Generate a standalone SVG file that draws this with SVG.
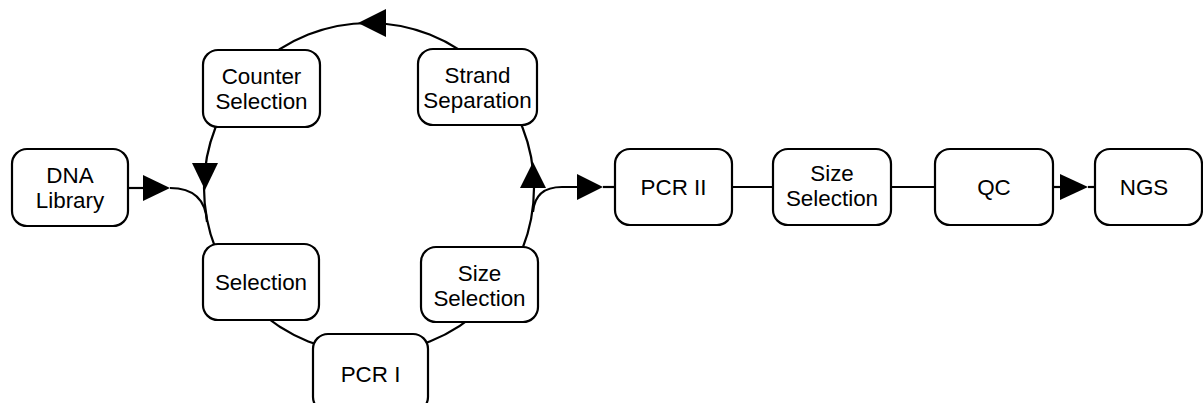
<svg xmlns="http://www.w3.org/2000/svg" width="1203" height="403" viewBox="0 0 1203 403">
<style>
.box{fill:#fff;stroke:#000;stroke-width:2.2}
.ln{fill:none;stroke:#000;stroke-width:2.2}
.ah{fill:#000;stroke:none}
text{font-family:"Liberation Sans",Arial,sans-serif;font-size:22.4px;fill:#000;text-anchor:middle}
</style>
<rect width="1203" height="403" fill="#fff"/>
<g id="connectors">
<circle class="ln" cx="369" cy="188" r="165"/>
<polygon class="ah" points="358,23 386,9 386,37"/>
<polygon class="ah" points="205,190 192,163 218,163"/>
<polygon class="ah" points="533,162 520,188 546,188"/>
<path class="ln" d="M128,188 H143"/>
<polygon class="ah" points="170,188 143,175 143,201"/>
<path class="ln" d="M170,188 Q205,188 207,222"/>
<path class="ln" d="M533,212 Q535,187 562,187 H577"/>
<polygon class="ah" points="603,187 577,174 577,200"/>
<path class="ln" d="M603,187 H615"/>
<path class="ln" d="M732,187 H773"/>
<path class="ln" d="M891,187 H935"/>
<path class="ln" d="M1053,187 H1060"/>
<polygon class="ah" points="1088,187 1060,174 1060,200"/>
<path class="ln" d="M1088,187 H1095"/>
</g>
<g id="dna-library"><rect class="box" x="12" y="149" width="116" height="77" rx="15"/><text x="70" y="183">DNA</text><text x="70" y="208.2">Library</text></g>
<g id="counter-selection"><rect class="box" x="203" y="50" width="117" height="77" rx="15"/><text x="261.5" y="84">Counter</text><text x="261.5" y="109.2">Selection</text></g>
<g id="strand-separation"><rect class="box" x="418" y="49" width="119" height="76" rx="15"/><text x="477.5" y="83">Strand</text><text x="477.5" y="108.2">Separation</text></g>
<g id="selection"><rect class="box" x="203" y="244" width="116" height="76" rx="15"/><text x="261" y="290">Selection</text></g>
<g id="size-selection-1"><rect class="box" x="421" y="247" width="117" height="75" rx="15"/><text x="479.5" y="281">Size</text><text x="479.5" y="306.2">Selection</text></g>
<g id="pcr-1"><rect class="box" x="313" y="334" width="115" height="78" rx="15"/><text x="370.5" y="382">PCR I</text></g>
<g id="pcr-2"><rect class="box" x="615" y="149" width="117" height="76" rx="15"/><text x="673.5" y="195">PCR II</text></g>
<g id="size-selection-2"><rect class="box" x="773" y="149" width="118" height="76" rx="15"/><text x="832" y="181">Size</text><text x="832" y="206.2">Selection</text></g>
<g id="qc"><rect class="box" x="935" y="149" width="118" height="76" rx="15"/><text x="994" y="195">QC</text></g>
<g id="ngs"><rect class="box" x="1095" y="149" width="107" height="76" rx="15"/><text x="1144" y="195">NGS</text></g>
</svg>
